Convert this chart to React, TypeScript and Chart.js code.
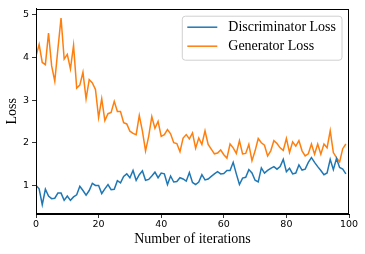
import { useEffect, useRef } from "react";
import { Chart, registerables } from "chart.js";

Chart.register(...registerables);

const xTicks = [0, 20, 40, 60, 80, 100];
const yTicks = [1, 2, 3, 4, 5];

const discriminatorLoss = [
  1.0, 0.92, 0.55, 0.91, 0.75, 0.69, 0.7, 0.82, 0.82, 0.65,
  0.75, 0.65, 0.73, 0.78, 0.98, 0.88, 0.77, 0.88, 1.05, 1.0,
  1.0, 0.81, 0.92, 1.02, 0.9, 0.91, 1.11, 1.06, 1.21, 1.27,
  1.18, 1.35, 1.12, 1.25, 1.34, 1.12, 1.14, 1.22, 1.31, 1.18,
  1.29, 1.27, 1.02, 1.22, 1.08, 1.09, 1.18, 1.15, 1.1, 1.3,
  1.07, 1.02, 1.08, 1.25, 1.13, 1.15, 1.21, 1.27, 1.32, 1.27,
  1.28, 1.35, 1.35, 1.54, 1.27, 1.02, 1.17, 1.19, 1.37, 1.29,
  1.12, 1.08, 1.41, 1.29, 1.35, 1.4, 1.44, 1.38, 1.44, 1.61,
  1.32, 1.4, 1.27, 1.29, 1.48, 1.36, 1.38, 1.54, 1.65, 1.54,
  1.44, 1.35, 1.25, 1.29, 1.61, 1.37, 1.63, 1.42, 1.38, 1.27,
];

const generatorLoss = [
  4.03, 4.3, 3.88, 3.83, 4.57, 3.8, 3.44, 4.2, 4.92, 3.96,
  4.07, 3.73, 4.28, 3.28, 3.35, 3.65, 3.03, 3.48, 3.4, 3.25,
  2.59, 3.03, 2.52, 2.68, 2.71, 2.97, 2.73, 2.73, 2.47, 2.44,
  2.27, 2.22, 2.19, 2.64, 2.27, 1.81, 2.15, 2.61, 2.34, 2.5,
  2.15, 2.19, 2.31, 2.21, 2.0, 1.98, 1.79, 2.11, 2.19, 2.09,
  2.23, 1.87, 2.11, 1.96, 2.28, 1.96, 1.85, 1.74, 1.76, 1.83,
  1.72, 1.64, 1.97, 1.88, 1.75, 2.05, 1.74, 1.75, 1.96, 1.58,
  1.81, 2.1, 2.0, 1.94, 1.69, 1.81, 2.05, 1.98, 1.88, 1.82,
  2.1, 1.77, 2.02, 1.92, 2.05, 1.81, 1.69, 1.74, 1.97, 1.73,
  1.97, 1.73, 1.97, 1.88, 2.28, 1.77, 1.65, 1.55, 1.86, 1.97,
];

const seriesLabels = ["Discriminator Loss", "Generator Loss"];
const seriesColors = ["#1f77b4", "#ff7f0e"];

const SERIF = "'Liberation Serif', 'Times New Roman', serif";
const SANS = "'DejaVu Sans', sans-serif";

const framePlugin = {
  id: "frame",
  afterDatasetsDraw(chart: any) {
    const { ctx, chartArea } = chart;
    ctx.save();
    ctx.strokeStyle = "#000";
    ctx.lineWidth = 1;
    ctx.strokeRect(
      Math.round(chartArea.left) + 0.5,
      Math.round(chartArea.top) + 0.5,
      Math.round(chartArea.right - chartArea.left) - 1,
      Math.round(chartArea.bottom - chartArea.top) - 1
    );
    ctx.restore();
  },
};

const legendPlugin = {
  id: "boxLegend",
  afterDraw(chart: any) {
    const { ctx, chartArea } = chart;
    const datasets = chart.data.datasets;
    const fontSize = 14;
    ctx.save();
    ctx.font = `${fontSize}px ${SERIF}`;
    let maxW = 0;
    datasets.forEach((d: any) => {
      maxW = Math.max(maxW, ctx.measureText(d.label).width);
    });
    const lineLen = 30;
    const padL = 5;
    const gap = 11;
    const padR = 6;
    const rowH = 19;
    const w = padL + lineLen + gap + maxW + padR;
    const h = 44;
    const right = chartArea.right - 7;
    const top = chartArea.top + 7.5;
    const left = right - w;
    const r = 3;
    ctx.beginPath();
    ctx.moveTo(left + r, top);
    ctx.lineTo(right - r, top);
    ctx.arcTo(right, top, right, top + r, r);
    ctx.lineTo(right, top + h - r);
    ctx.arcTo(right, top + h, right - r, top + h, r);
    ctx.lineTo(left + r, top + h);
    ctx.arcTo(left, top + h, left, top + h - r, r);
    ctx.lineTo(left, top + r);
    ctx.arcTo(left, top, left + r, top, r);
    ctx.closePath();
    ctx.fillStyle = "rgba(255,255,255,0.8)";
    ctx.fill();
    ctx.strokeStyle = "#d0d0d0";
    ctx.lineWidth = 1;
    ctx.stroke();
    datasets.forEach((d: any, i: number) => {
      const y = top + 11 + i * rowH;
      ctx.beginPath();
      ctx.strokeStyle = d.borderColor;
      ctx.lineWidth = 1.5;
      ctx.moveTo(left + padL, y);
      ctx.lineTo(left + padL + lineLen, y);
      ctx.stroke();
      ctx.fillStyle = "#000";
      ctx.textBaseline = "middle";
      ctx.textAlign = "left";
      ctx.fillText(d.label, left + padL + lineLen + gap, y + 0.5);
    });
    ctx.restore();
  },
};

export default function App() {
  const canvasRef = useRef<HTMLCanvasElement | null>(null);

  useEffect(() => {
    document.body.style.margin = "0";
    const canvas = canvasRef.current;
    if (!canvas) return;
    const series = [discriminatorLoss, generatorLoss];
    const chart = new Chart(canvas, {
      type: "line",
      data: {
        datasets: series.map((vals, s) => ({
          label: seriesLabels[s],
          data: vals.map((v, i) => ({ x: i, y: v })),
          borderColor: seriesColors[s],
          backgroundColor: seriesColors[s],
          borderWidth: 1.5,
          pointRadius: 0,
          tension: 0,
          fill: false,
        })),
      },
      options: {
        responsive: false,
        animation: false,
        devicePixelRatio: 1,
        layout: { padding: { top: 6, right: 16, left: 0, bottom: 0 } },
        plugins: {
          legend: { display: false },
          tooltip: { enabled: false },
        },
        scales: {
          x: {
            type: "linear",
            min: 0,
            max: 100,
            afterBuildTicks: (scale: any) => {
              scale.ticks = xTicks.map((v) => ({ value: v }));
            },
            afterFit: (scale: any) => {
              scale.height = 40;
            },
            grid: {
              drawOnChartArea: false,
              drawTicks: true,
              tickLength: 4,
              tickColor: "#000",
              tickWidth: 0.8,
            },
            border: { display: true, color: "#000", width: 1 },
            ticks: {
              color: "#000",
              padding: 1,
              maxRotation: 0,
              font: { family: SANS, size: 9.5 },
            },
            title: {
              display: true,
              text: "Number of iterations",
              color: "#000",
              font: { family: SERIF, size: 14 },
              padding: { top: 0, bottom: 6 },
            },
          },
          y: {
            type: "linear",
            min: 0.33,
            max: 5.14,
            afterBuildTicks: (scale: any) => {
              scale.ticks = yTicks.map((v) => ({ value: v }));
            },
            afterFit: (scale: any) => {
              scale.width = 36;
            },
            grid: {
              drawOnChartArea: false,
              drawTicks: true,
              tickLength: 4,
              tickColor: "#000",
              tickWidth: 0.8,
            },
            border: { display: true, color: "#000", width: 1 },
            ticks: {
              color: "#000",
              padding: 3,
              font: { family: SANS, size: 9.5 },
            },
            title: {
              display: true,
              text: "Loss",
              color: "#000",
              font: { family: SERIF, size: 14 },
              padding: { top: 4, bottom: 0 },
            },
          },
        },
      },
      plugins: [framePlugin, legendPlugin],
    } as any);
    return () => chart.destroy();
  }, []);

  return (
    <div style={{ position: "absolute", left: 0, top: 0, width: 365, height: 254, background: "#fff" }}>
      <canvas ref={canvasRef} width={365} height={254} />
    </div>
  );
}
